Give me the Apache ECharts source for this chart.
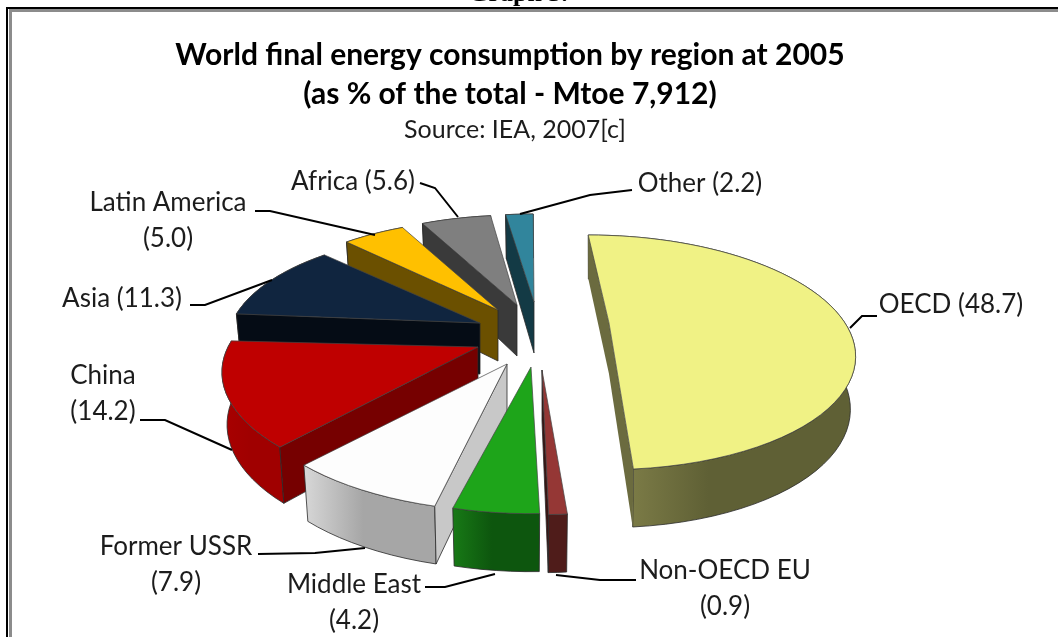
<!DOCTYPE html>
<html><head><meta charset="utf-8">
<style>html,body{margin:0;padding:0;background:#fff}#c{width:1058px;height:637px}</style>
<script src="https://cdn.jsdelivr.net/npm/echarts@6/dist/echarts.min.js"></script>
</head><body><div id="c"></div>
<script>
// --- data ---
const regions = ['OECD','Non-OECD EU','Middle East','Former USSR','China','Asia','Latin America','Africa','Other'];
const shares = [48.7,0.9,4.2,7.9,14.2,11.3,5.0,5.6,2.2];
const titleLines = ['World final energy consumption by region at 2005','(as % of the total - Mtoe 7,912)','Source: IEA, 2007[c]'];
const pageCaption = 'Graph 3.';

// --- layout / style (separate from data) ---
const CENTER=[535,340], RX=250, RY=110, PERSP=0.25, SKEW=0.077, DEPTH=51, DEPTH_FRONT=7, BOTTOM_SCALE=0.98;
// per-slice explosion of the arc origin and of the visible tip, relative to CENTER
const explodeArc = [[60,-17],[-6,28],[-15,27],[-33,25],[-57,7],[-52,-20],[-30,-33],[-10,-37],[5,-38]];
const explodeTip = [[74,-17],[7,30],[-4,27],[-28,24],[-57,7],[-55,-17],[-37,-30],[-18,-35],[-1,-38]];
const fills = ['#f0f285','#953735','#1ea51a','#fdfdfd','#bf0000','#10253f','#ffc000','#7f7f7f','#31859c'];
const wallStops = [['#8b8a50','#5f6035'],['#4f1c1a','#4f1c1a'],['#187a16','#0d560e'],['#d8d8d8','#a6a6a6'],['#a80000','#a00000'],['#050c15','#050c15'],['#6b5000','#6b5000'],['#3a3a3a','#3a3a3a'],['#133a45','#133a45']];
const cutFills = ['#6b6b3f','#3a1412','#146c14','#c8c8c8','#760000','#050c15','#6b5000','#3a3a3a','#133a45'];
const labelBreak = [false,true,true,true,true,false,true,false,false];
const labelPos = [[951,305],[725,589],[354,603],[176,565],[103,394],[122,299],[168,221],[353,182],[700,184]];
const leaders = [
 [[850,328],[862,316],[877,316]],
 [[556,575],[600,580],[636,580]],
 [[495,574],[445,587],[425,587]],
 [[365,548],[315,553],[258,554]],
 [[232,450],[165,420],[140,420]],
 [[272,280],[205,305],[190,305]],
 [[375,235],[270,211],[255,211]],
 [[458,217],[435,188],[420,183]],
 [[520,214],[590,195],[632,190]]
];
const LABEL_FONT='26px Lato, "Open Sans", sans-serif';

function project(theta){
  const u=Math.sin(theta), v=-Math.cos(theta), s=1/(1-PERSP*v);
  return {x:(RX*u+SKEW*RY*v)*s, y:RY*v*s, v};
}
const total=shares.reduce((a,b)=>a+b,0);
function angleBefore(i){let c=0;for(let k=0;k<i;k++)c+=shares[k];return c/total*2*Math.PI;}
function renderSlice(params,api){
  const i=params.dataIndex, value=api.value(0);
  const a=angleBefore(i), b=a+value/total*2*Math.PI, mid=(a+b)/2;
  const ox=CENTER[0]+explodeArc[i][0], oy=CENTER[1]+explodeArc[i][1];
  const tx=CENTER[0]+explodeTip[i][0], ty=CENTER[1]+explodeTip[i][1];
  const rank=Math.round((-Math.cos(mid)+1)*100)+10;
  const top=[],lower=[];
  const n=Math.max(2,Math.ceil((b-a)/(Math.PI/60)));
  for(let k=0;k<=n;k++){
    const p=project(a+(b-a)*k/n);
    top.push([ox+p.x,oy+p.y]);
    lower.push([ox+p.x*BOTTOM_SCALE,oy+p.y+DEPTH+DEPTH_FRONT*p.v]);
  }
  const edge={stroke:'#2a2a2a',lineWidth:0.8};
  const children=[];
  children.push({type:'polygon',z2:rank,shape:{points:top.concat(lower.slice().reverse())},
    style:Object.assign({fill:new echarts.graphic.LinearGradient(0,0,1,0,[{offset:0,color:wallStops[i][0]},{offset:0.45,color:wallStops[i][1]},{offset:1,color:wallStops[i][1]}])},edge)});
  const tipLow=[tx,ty+DEPTH];
  function cut(k,stroke){const t=top[k],l=lower[k];
    children.push({type:'polygon',z2:rank+1,shape:{points:[[tx,ty],t,l,tipLow]},style:stroke?Object.assign({fill:cutFills[i]},edge):{fill:cutFills[i]}});}
  if(Math.sin(a)<=1e-9) cut(0,i!==0);
  if(Math.sin(b)>0) cut(n,i!==0);
  children.push({type:'polygon',z2:rank+2,shape:{points:[[tx,ty]].concat(top)},style:{fill:fills[i],stroke:'#444',lineWidth:0.7}});
  children.push({type:'polyline',z2:400,shape:{points:leaders[i]},style:{fill:'none',stroke:'#000',lineWidth:2}});
  children.push({type:'text',z2:401,style:{x:labelPos[i][0],y:labelPos[i][1],
    text:regions[i]+(labelBreak[i]?'\n':' ')+'('+value.toFixed(1)+')',
    fill:'#1c1c1c',font:LABEL_FONT,align:'center',verticalAlign:'middle',lineHeight:36}});
  return {type:'group',children};
}
const chart=echarts.init(document.getElementById('c'),null,{renderer:'canvas'});
chart.setOption({
  animation:false,backgroundColor:'#fff',
  title:[
   {text:titleLines[0],left:505,top:50,textAlign:'center',textVerticalAlign:'middle',textStyle:{fontFamily:'Lato',fontWeight:'bold',fontSize:30,color:'#000'}},
   {text:titleLines[1],left:505,top:89,textAlign:'center',textVerticalAlign:'middle',textStyle:{fontFamily:'Lato',fontWeight:'bold',fontSize:30,color:'#000'}},
   {text:titleLines[2],left:510,top:125,textAlign:'center',textVerticalAlign:'middle',textStyle:{fontFamily:'Lato',fontWeight:'normal',fontSize:25,color:'#1c1c1c'}}
  ],
  graphic:[
   {type:'text',z:-1,style:{x:518,y:7,text:pageCaption,fill:'#000',font:'bold 26px "Liberation Serif"',align:'center',verticalAlign:'bottom'}},
   {type:'rect',shape:{x:6,y:7,width:1060,height:2},style:{fill:'#000'}},
   {type:'rect',shape:{x:6,y:7,width:2,height:640},style:{fill:'#000'}},
   {type:'rect',shape:{x:9,y:9,width:1060,height:3},style:{fill:'#8c8c8c'}},
   {type:'rect',shape:{x:9,y:9,width:3,height:640},style:{fill:'#8c8c8c'}}
  ],
  series:[{type:'custom',coordinateSystem:'none',silent:true,clip:false,renderItem:renderSlice,
    data:shares.map((v,i)=>({name:regions[i],value:[v]}))}]
});
</script></body></html>
